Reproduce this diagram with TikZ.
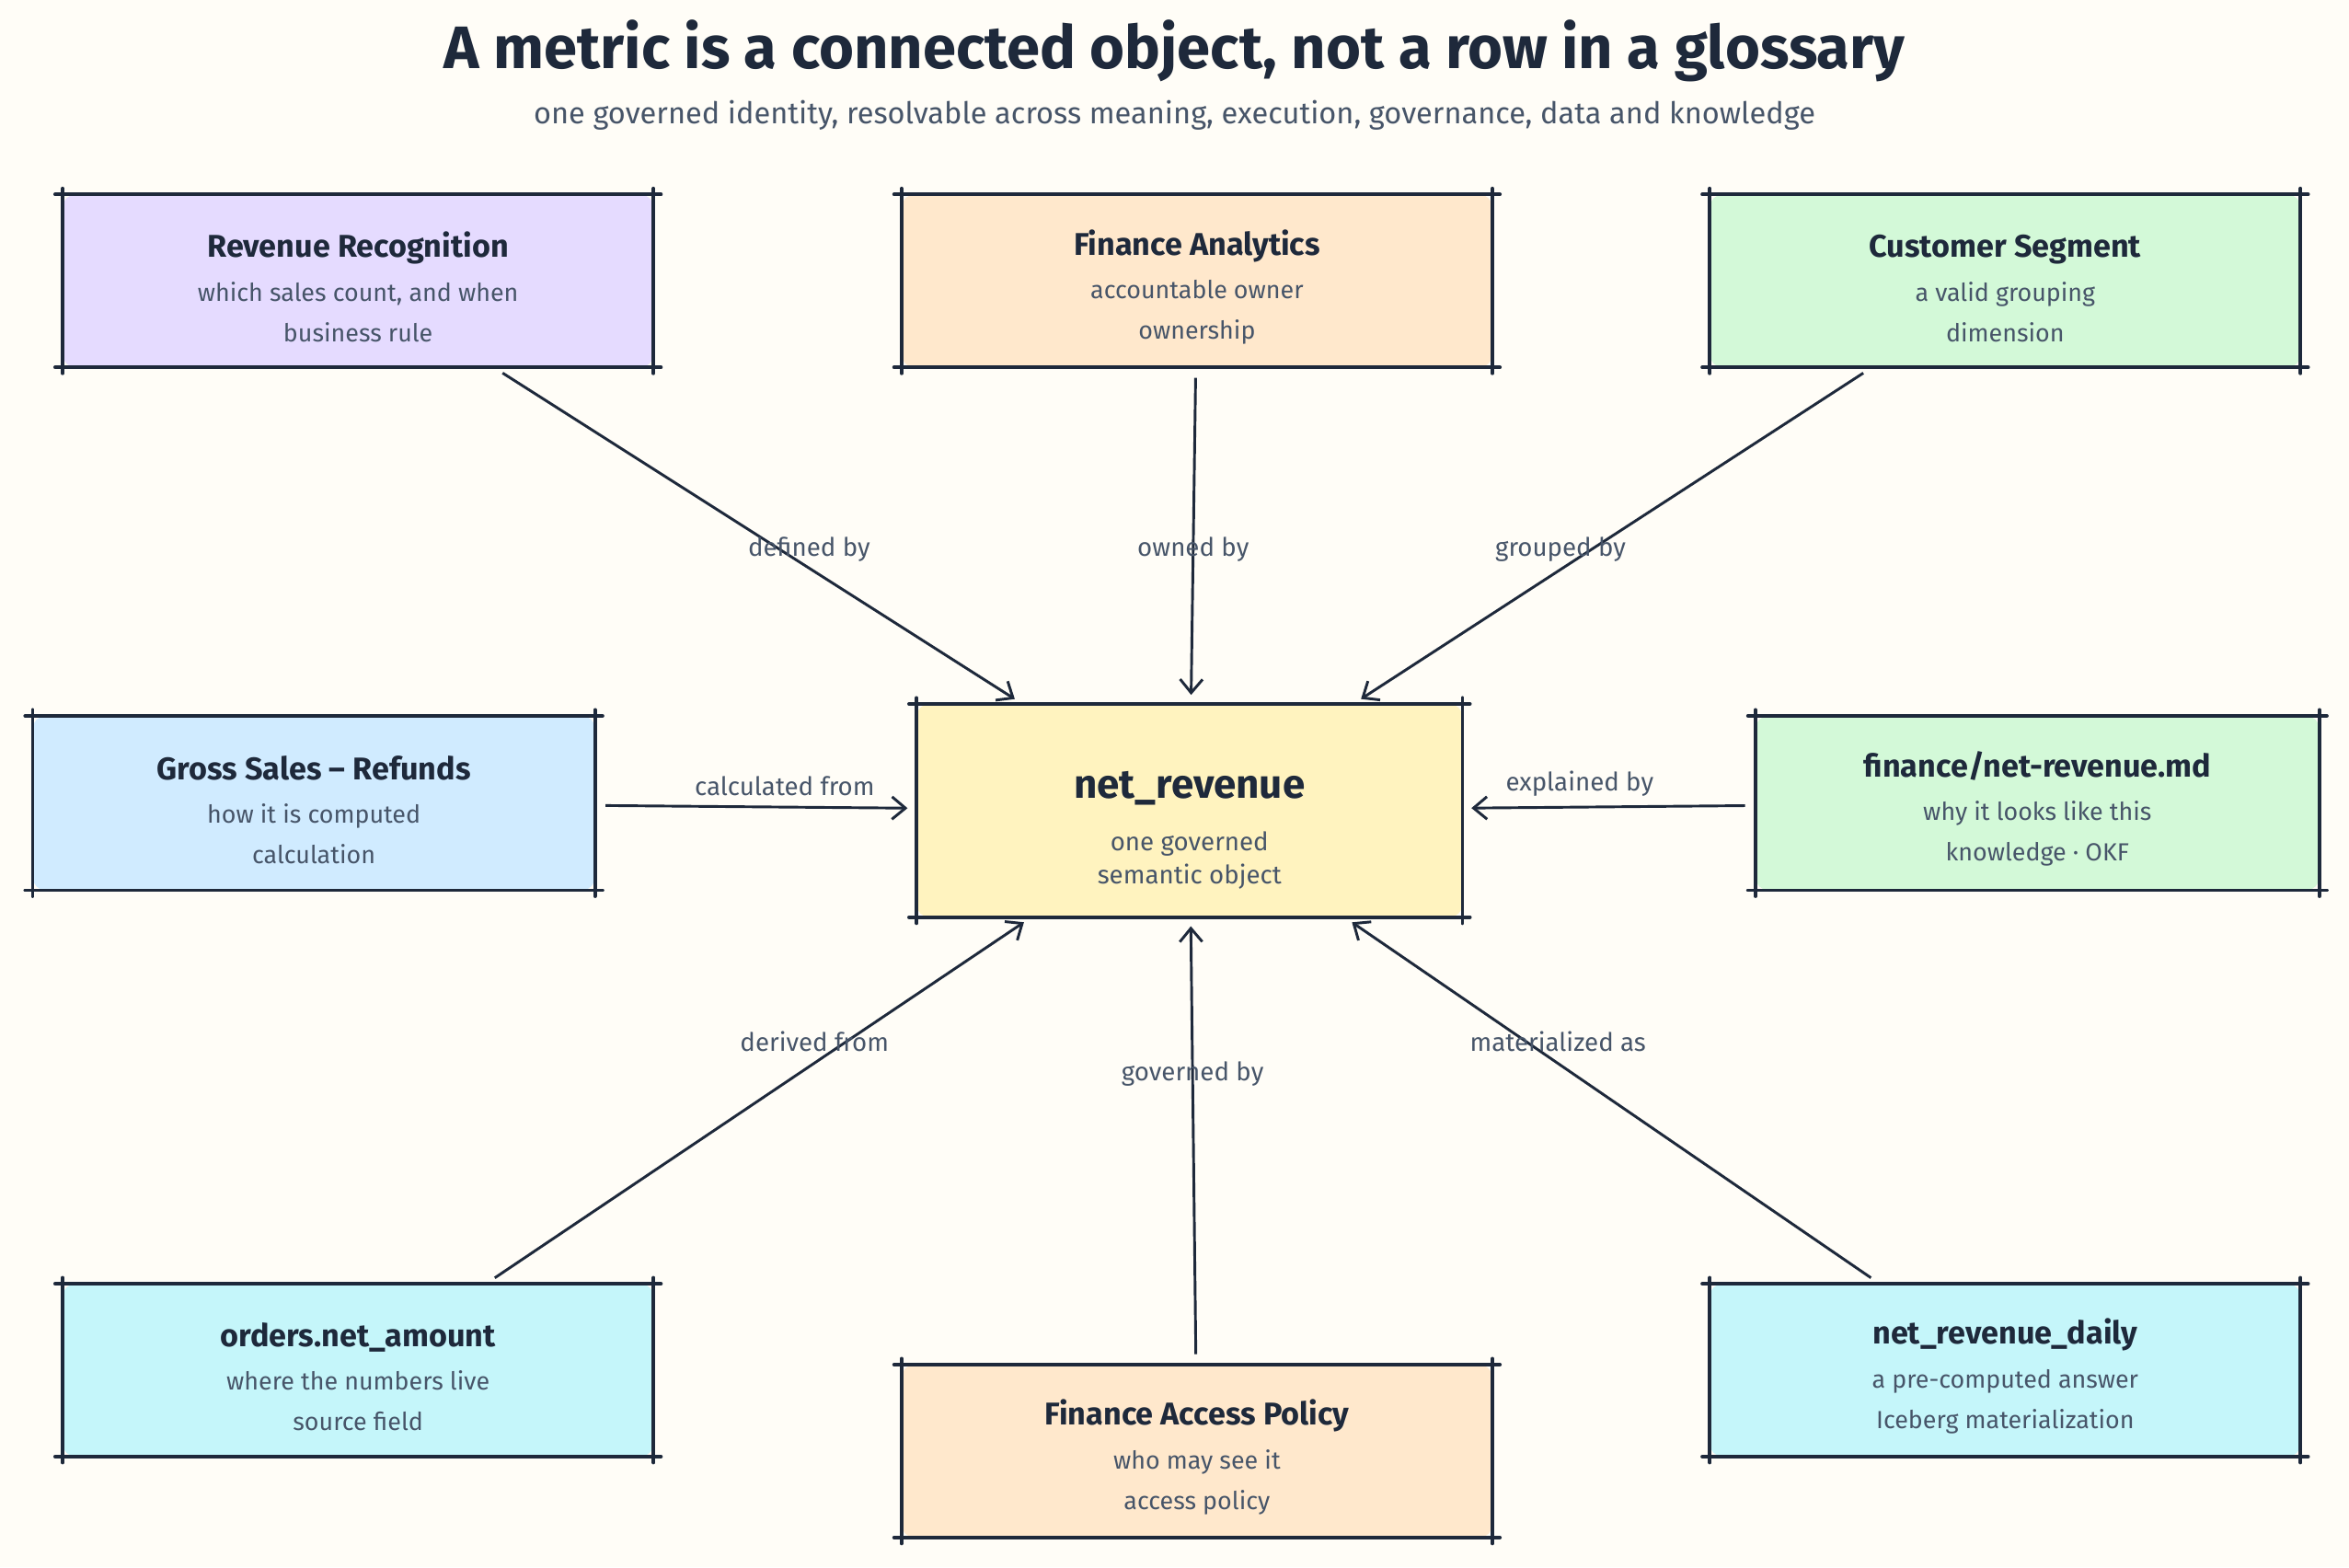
\documentclass[tikz,border=0pt]{standalone}
\usepackage{fontspec}
\setmainfont{Fira Sans}
\usetikzlibrary{arrows.meta}
\definecolor{paper}{RGB}{255,253,247}
\definecolor{ink}{RGB}{30,41,59}
\definecolor{inkgray}{RGB}{71,85,105}
\definecolor{lila}{RGB}{229,219,255}
\definecolor{apricot}{RGB}{255,232,204}
\definecolor{mint}{RGB}{211,249,216}
\definecolor{sky}{RGB}{208,235,255}
\definecolor{butter}{RGB}{255,243,191}
\definecolor{aqua}{RGB}{197,246,250}

\newcommand{\cardtext}[3]{{\fontsize{21}{27}\selectfont\bfseries\rule{0pt}{25pt}#1}\\[2pt]{\color{inkgray}#2}\\{\color{inkgray}#3}}

\tikzset{
	card/.style={rounded corners=8pt, minimum width=394pt, minimum height=115pt, align=center, inner sep=0pt, text=ink, font=\fontsize{16.5}{27}\selectfont},
	sketch/.style={draw=ink, line width=2.4pt, line cap=round},
	link/.style={draw=ink, line width=1.8pt, -{Straight Barb[length=9pt,width=15pt,line width=1.8pt]}, shorten <=7pt, shorten >=6pt},
	tag/.style={text=inkgray, font=\fontsize{17}{19}\selectfont}
}

\begin{document}
\begin{tikzpicture}[x=1pt, y=-1pt]

	\fill[paper] (0,0) rectangle (1568,1046);
	\useasboundingbox (0,0) rectangle (1568,1046);

	\node[text=ink, font=\fontsize{40}{46}\selectfont\bfseries] (title) at (784,34) {A metric is a connected object, not a row in a glossary};
	\node[text=inkgray, font=\fontsize{20}{24}\selectfont] (subtitle) at (784,77) {one governed identity, resolvable across meaning, execution, governance, data and knowledge};

	\node[card, fill=lila] (rule) at (239,187.5) {\cardtext{Revenue Recognition}{which sales count, and when}{business rule}};
	\node[card, fill=apricot] (owner) at (799,187.5) {\cardtext{Finance Analytics}{accountable owner}{ownership}};
	\node[card, fill=mint] (dim) at (1338.5,187.5) {\cardtext{Customer Segment}{a valid grouping}{dimension}};

	\node[card, fill=sky, minimum width=375pt, minimum height=116pt] (calc) at (209.5,536) {\cardtext{Gross Sales – Refunds}{how it is computed}{calculation}};
	\node[card, fill=butter, minimum width=364pt, minimum height=142pt, font=\fontsize{17}{22}\selectfont] (metric) at (794,541) {{\fontsize{27}{30}\selectfont\bfseries\rule{0pt}{44pt}net\_revenue}\\[13pt]{\color{inkgray}one governed}\\{\color{inkgray}semantic object}};
	\node[card, fill=mint, minimum width=376pt, minimum height=116pt] (doc) at (1360,536) {\cardtext{finance/net-revenue.md}{why it looks like this}{knowledge · OKF}};

	\node[card, fill=aqua] (field) at (239,914.5) {\cardtext{orders.net\_amount}{where the numbers live}{source field}};
	\node[card, fill=apricot] (policy) at (799,968.5) {\cardtext{Finance Access Policy}{who may see it}{access policy}};
	\node[card, fill=aqua] (table) at (1338.5,914.5) {\cardtext{net\_revenue\_daily}{a pre-computed answer}{Iceberg materialization}};

	% rough pen strokes round every card
	\foreach \n in {rule,owner,dim,calc,metric,doc,field,policy,table} {
		\draw[sketch] ([xshift=-5pt]\n.north west) -- ([xshift=5pt]\n.north east);
		\draw[sketch] ([xshift=-5pt]\n.south west) -- ([xshift=5pt]\n.south east);
		\draw[sketch] ([yshift=4pt]\n.north west) -- ([yshift=-4pt]\n.south west);
		\draw[sketch] ([yshift=4pt]\n.north east) -- ([yshift=-4pt]\n.south east);
	}

	\draw[link] (rule) -- node[tag, pos=0.54, xshift=20pt] {defined by} (metric);
	\draw[link] (owner) -- node[tag, pos=0.54] {owned by} (metric);
	\draw[link] (dim) -- node[tag, pos=0.54, xshift=-21pt] {grouped by} (metric);
	\draw[link] (calc) -- node[tag, pos=0.59, above=3pt] {calculated from} (metric);
	\draw[link] (doc) -- node[tag, pos=0.6, above=3pt] {explained by} (metric);
	\draw[link] (field) -- node[tag, pos=0.66, xshift=-21pt] {derived from} (metric);
	\draw[link] (policy) -- node[tag, pos=0.65] {governed by} (metric);
	\draw[link] (table) -- node[tag, pos=0.66, xshift=21pt] {materialized as} (metric);

\end{tikzpicture}
\end{document}
